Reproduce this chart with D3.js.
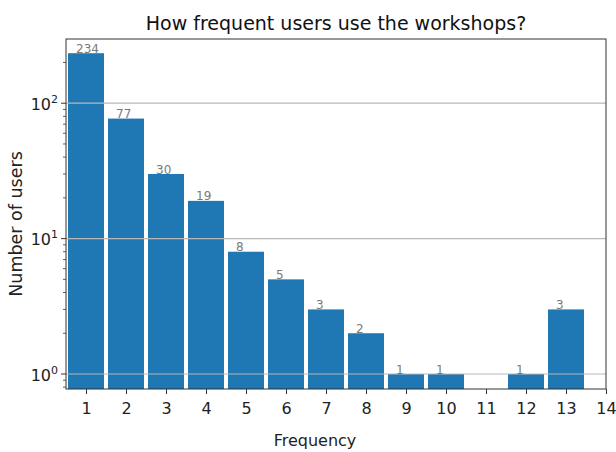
<!DOCTYPE html>
<html>
<head>
<meta charset="utf-8">
<script src="https://cdn.jsdelivr.net/npm/d3@7"></script>
<style>
  body { margin: 0; background: #fff; }
  svg { font-family: "DejaVu Sans", sans-serif; }
</style>
</head>
<body>
<svg id="chart" width="616" height="452"></svg>
<script>
// Workshop usage frequency and how many users fall into each bucket
const frequencies = [1, 2, 3, 4, 5, 6, 7, 8, 9, 10, 11, 12, 13];
const userCounts  = [234, 77, 30, 19, 8, 5, 3, 2, 1, 1, 0, 1, 3];
const xTickValues = [1, 2, 3, 4, 5, 6, 7, 8, 9, 10, 11, 12, 13, 14];
const yMajorTicks = [1, 10, 100];
const yExponents  = ["0", "1", "2"];

const svg = d3.select("#chart");
const plot = { left: 66, right: 606, top: 39, bottom: 389 };

const x = d3.scaleLinear().domain([0.5, 14]).range([plot.left, plot.right]);
const y = d3.scaleLog().domain([0.775, 298]).range([plot.bottom, plot.top]);
const barWidth = x(0.9) - x(0);

// bars (a count of zero has no bar on a log axis)
const data = frequencies.map((f, i) => ({ f, n: userCounts[i] })).filter(d => d.n > 0);

svg.append("g").selectAll("rect").data(data).join("rect")
  .attr("x", d => x(d.f) - barWidth / 2)
  .attr("width", barWidth)
  .attr("y", d => y(d.n))
  .attr("height", d => plot.bottom - y(d.n))
  .attr("fill", "#1f77b4");

// horizontal grid at the decades, drawn over the bars
svg.append("g").selectAll("line").data(yMajorTicks).join("line")
  .attr("x1", plot.left).attr("x2", plot.right)
  .attr("y1", d => y(d)).attr("y2", d => y(d))
  .attr("stroke", "#b8b8b8").attr("stroke-width", 1.2);

// value labels
svg.append("g").selectAll("text").data(data).join("text")
  .attr("x", d => x(d.f - 0.25))
  .attr("y", d => y(d.n) - 0.5)
  .attr("font-size", 12)
  .attr("fill", "#7a7a7a")
  .text(d => d.n);

// spines
svg.append("rect")
  .attr("x", plot.left).attr("y", plot.top)
  .attr("width", plot.right - plot.left).attr("height", plot.bottom - plot.top)
  .attr("fill", "none").attr("stroke", "#333").attr("stroke-width", 1);

// x axis
const xAxis = d3.axisBottom(x).tickValues(xTickValues).tickSize(5).tickPadding(8.5).tickFormat(d3.format("d"));
const gx = svg.append("g").attr("transform", `translate(0,${plot.bottom})`).call(xAxis);
gx.select(".domain").remove();
gx.selectAll(".tick line").attr("stroke", "#333");
gx.selectAll(".tick text").attr("font-size", 16).attr("fill", "#222").attr("font-family", "DejaVu Sans");

// y axis: minor ticks
const minor = [];
[0.1, 1, 10, 100].forEach(dec => {
  for (let k = 2; k <= 9; k++) {
    const v = dec * k;
    if (v >= y.domain()[0] && v <= y.domain()[1]) minor.push(v);
  }
});
svg.append("g").selectAll("line").data(minor).join("line")
  .attr("x1", plot.left - 3).attr("x2", plot.left)
  .attr("y1", d => y(d)).attr("y2", d => y(d))
  .attr("stroke", "#333").attr("stroke-width", 0.8);

// y axis: major ticks with power-of-ten labels
const gy = svg.append("g");
gy.selectAll("line").data(yMajorTicks).join("line")
  .attr("x1", plot.left - 5).attr("x2", plot.left)
  .attr("y1", d => y(d)).attr("y2", d => y(d))
  .attr("stroke", "#333");
const yl = gy.selectAll("text").data(yMajorTicks).join("text")
  .attr("x", plot.left - 8)
  .attr("y", d => y(d) + 6.5)
  .attr("text-anchor", "end")
  .attr("font-size", 16)
  .attr("fill", "#222");
yl.append("tspan").text("10");
yl.append("tspan").attr("dy", -7).attr("font-size", 11).text((d, i) => yExponents[i]);

// titles
svg.append("text")
  .attr("x", (plot.left + plot.right) / 2).attr("y", 30)
  .attr("text-anchor", "middle").attr("font-size", 19).attr("fill", "#111")
  .text("How frequent users use the workshops?");

svg.append("text")
  .attr("x", 315).attr("y", 446)
  .attr("text-anchor", "middle").attr("font-size", 16).attr("fill", "#222")
  .text("Frequency");

svg.append("text")
  .attr("transform", "translate(22,224) rotate(-90)")
  .attr("text-anchor", "middle").attr("font-size", 17.5).attr("fill", "#222")
  .text("Number of users");
</script>
</body>
</html>
